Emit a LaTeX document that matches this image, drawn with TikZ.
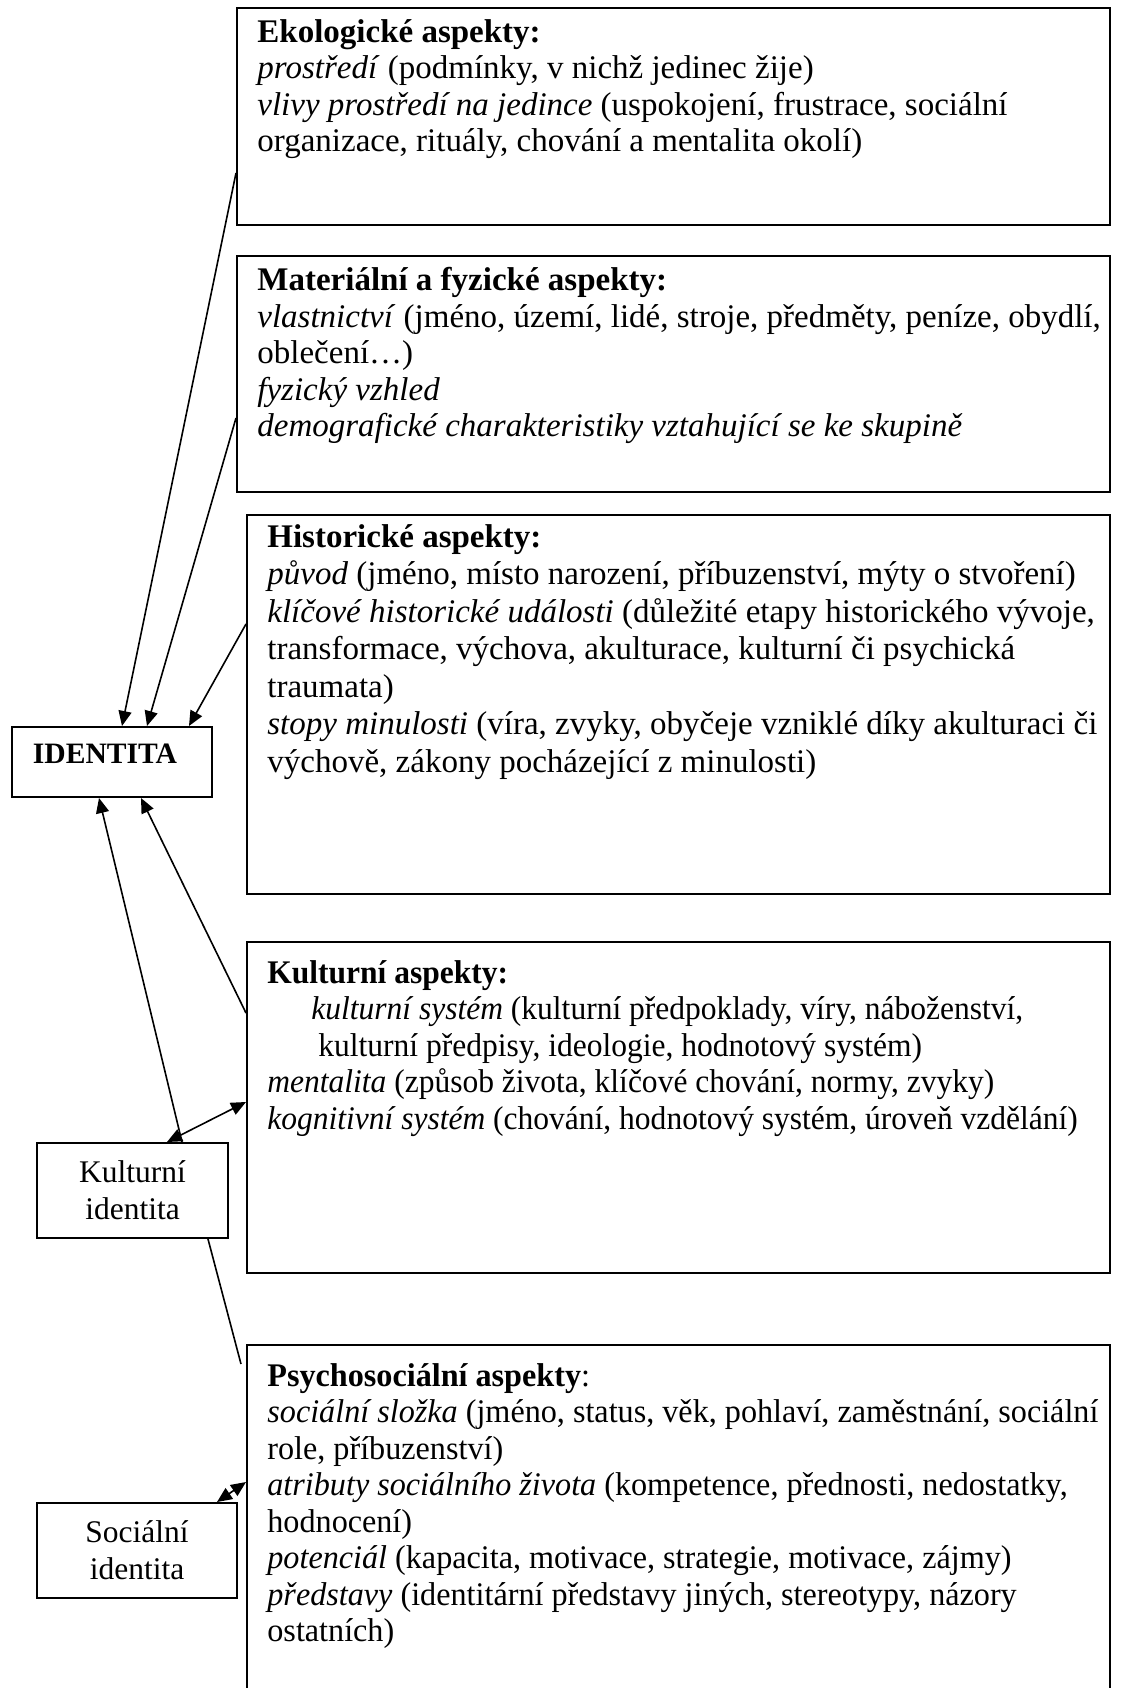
\documentclass[tikz,border=0pt]{standalone}
\usepackage{fontspec}
\setmainfont{Liberation Serif}
\newfontfamily\kultfont{Liberation Serif}[FakeStretch=0.955]
\newfontfamily\psychfont{Liberation Serif}[FakeStretch=0.975]
\usetikzlibrary{arrows.meta,calc}
\tikzstyle{Panel}=[rectangle, draw=black, line width=1pt, inner sep=0pt, anchor=north west]
\tikzstyle{Aspect}=[anchor=north west, inner sep=0pt, align=left, font=\fontsize{16.5pt}{18.25pt}\selectfont]
\tikzstyle{Ident}=[rectangle, draw=black, line width=1pt, inner sep=0pt, align=center, font=\fontsize{15.75pt}{18.5pt}\selectfont]
\tikzstyle{Link}=[line width=0.8pt, -{Triangle[length=7.5pt,width=6.5pt]}]
\tikzstyle{Both}=[line width=0.8pt, {Triangle[length=7.5pt,width=6.5pt]}-{Triangle[length=7.5pt,width=6.5pt]}]

\begin{document}
\begin{tikzpicture}[x=0.5pt, y=-0.5pt]
    \useasboundingbox (0,0) rectangle (1130,1688);
    \path
    (236,7) node[Panel, minimum width=436.5pt, minimum height=108.5pt] (eko) {}
    (236,255) node[Panel, minimum width=436.5pt, minimum height=118pt] (mat) {}
    (246,514) node[Panel, minimum width=431.5pt, minimum height=189.5pt] (hist) {}
    (246,941) node[Panel, minimum width=431.5pt, minimum height=165.5pt] (kult) {}
    (246,1344) node[Panel, minimum width=431.5pt, minimum height=173pt] (psych) {};

    \path (257,19) node[Aspect] (ekotext) {\textbf{Ekologické aspekty:}\\
      \textit{prostředí} (podmínky, v nichž jedinec žije)\\
      \textit{vlivy prostředí na jedince} (uspokojení, frustrace, sociální\\
      organizace, rituály, chování a mentalita okolí)}
    (257,267) node[Aspect] (mattext) {\textbf{Materiální a fyzické aspekty:}\\
      \textit{vlastnictví} (jméno, území, lidé, stroje, předměty, peníze, obydlí,\\
      oblečení…)\\
      \textit{fyzický vzhled}\\
      \textit{demografické charakteristiky vztahující se ke skupině}}
    (267,524) node[Aspect, font=\fontsize{16.5pt}{18.75pt}\selectfont] (histtext) {\textbf{Historické aspekty:}\\
      \textit{původ} (jméno, místo narození, příbuzenství, mýty o stvoření)\\
      \textit{klíčové historické události} (důležité etapy historického vývoje,\\
      transformace, výchova, akulturace, kulturní či psychická\\
      traumata)\\
      \textit{stopy minulosti} (víra, zvyky, obyčeje vzniklé díky akulturaci či\\
      výchově, zákony pocházející z minulosti)}
    (267,960) node[Aspect, font=\kultfont\fontsize{16.5pt}{18.25pt}\selectfont] (kulttext) {\textbf{Kulturní aspekty:}\\
      \hspace*{22pt}\textit{kulturní systém} (kulturní předpoklady, víry, náboženství,\\
      \hspace*{25.5pt}kulturní předpisy, ideologie, hodnotový systém)\\
      \textit{mentalita} (způsob života, klíčové chování, normy, zvyky)\\
      \textit{kognitivní systém} (chování, hodnotový systém, úroveň vzdělání)}
    (267,1363) node[Aspect, font=\psychfont\fontsize{16.5pt}{18.25pt}\selectfont] (psychtext) {\textbf{Psychosociální aspekty}:\\
      \textit{sociální složka} (jméno, status, věk, pohlaví, zaměstnání, sociální\\
      role, příbuzenství)\\
      \textit{atributy sociálního života} (kompetence, přednosti, nedostatky,\\
      hodnocení)\\
      \textit{potenciál} (kapacita, motivace, strategie, motivace, zájmy)\\
      \textit{představy} (identitární představy jiných, stereotypy, názory\\
      ostatních)};

    \path (112,762) node[Ident, minimum width=100pt, minimum height=35pt, font=\bfseries\fontsize{14.8pt}{17pt}\selectfont] (ident) {\raisebox{4pt}[\height][\depth]{IDENTITA}\hspace*{7pt}}
    (132.5,1190.5) node[Ident, minimum width=95.5pt, minimum height=47.5pt] (kultid) {Kulturní\\identita}
    (137,1550.5) node[Ident, minimum width=100pt, minimum height=47.5pt] (socid) {Sociální\\identita};
    \coordinate (psyend) at ($(psych.north west)+(-5,20)$);

    \draw[Link] ($(eko.north west)+(0,166)$) -- ($(ident.north west)+(111,0)$);
    \draw[Link] ($(mat.north west)+(0,163)$) -- ($(ident.north west)+(136,0)$);
    \draw[Link] ($(hist.north west)+(0,110)$) -- ($(ident.north west)+(178,0)$);
    \draw[Link] ($(kult.north west)+(0,72)$) -- ($(ident.south west)+(130,0)$);
    \draw[Link] ($(kultid.north west)+(146,0)$) -- ($(ident.south west)+(88,0)$);
    \draw[Both] ($(kultid.north west)+(131,0)$) -- ($(kult.north west)+(0,161)$);
    \draw[line width=0.8pt] ($(kultid.south west)+(172,0)$) -- (psyend);
    \draw[Both] ($(socid.north west)+(181,0)$) -- ($(psych.north west)+(0,138)$);
\end{tikzpicture}
\end{document}
